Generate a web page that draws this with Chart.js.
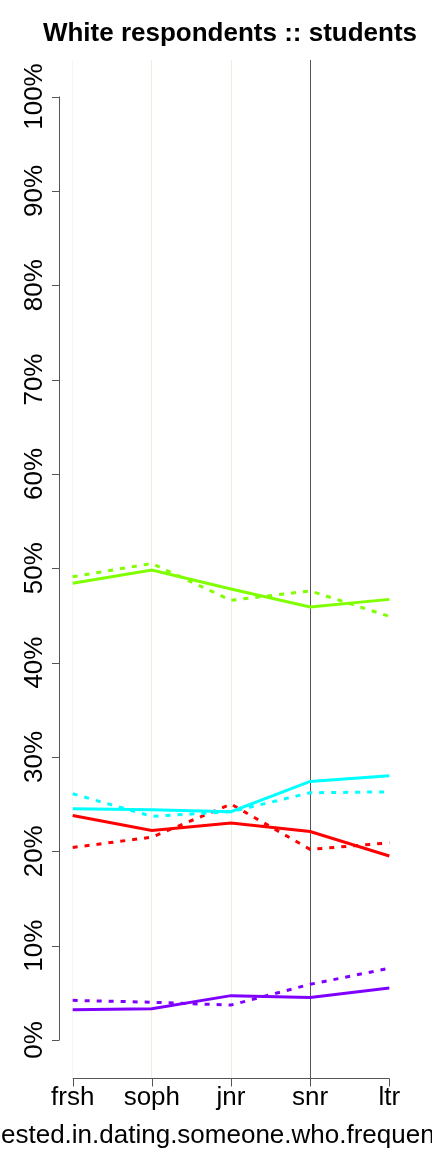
<!DOCTYPE html>
<html>
<head>
<meta charset="utf-8">
<script src="https://cdn.jsdelivr.net/npm/chart.js@4.4.0/dist/chart.umd.min.js"></script>
<style>
  body { margin: 0; background: #fff; }
  #c { display: block; }
</style>
</head>
<body>
<canvas id="c" width="432" height="1152"></canvas>
<script>
const categories = ["frsh", "soph", "jnr", "snr", "ltr"];
const yTicks = [0, 10, 20, 30, 40, 50, 60, 70, 80, 90, 100];

const greenSolid = [48.4, 49.8, 47.8, 45.9, 46.7];
const greenDotted = [49.1, 50.5, 46.6, 47.6, 44.9];
const cyanSolid = [24.5, 24.4, 24.2, 27.4, 28.0];
const cyanDotted = [26.1, 23.7, 24.2, 26.2, 26.3];
const redSolid = [23.8, 22.2, 23.0, 22.1, 19.5];
const redDotted = [20.4, 21.5, 25.0, 20.2, 20.9];
const purpleSolid = [3.2, 3.3, 4.7, 4.5, 5.5];
const purpleDotted = [4.2, 4.0, 3.7, 5.9, 7.6];

const titleText = "White respondents :: students";
const xTitleText = "ested.in.dating.someone.who.frequen";
const FONT = "Liberation Sans, Arial, Helvetica, sans-serif";

function pts(arr) {
  return arr.map((v, i) => ({ x: i, y: v }));
}

function line(data, color, dotted) {
  return {
    data: pts(data),
    borderColor: color,
    borderWidth: 3,
    borderDash: dotted ? [5, 7] : [],
    borderCapStyle: "butt",
    pointRadius: 0,
    tension: 0,
    fill: false
  };
}

const decor = {
  id: "decor",
  afterDraw(chart) {
    const ctx = chart.ctx;
    const xs = chart.scales.x, ys = chart.scales.y;
    ctx.save();
    ctx.fillStyle = "#000";

    // title
    ctx.font = "bold 26px " + FONT;
    ctx.textAlign = "center";
    ctx.textBaseline = "alphabetic";
    ctx.fillText(titleText, 230, 41);

    // y axis
    ctx.strokeStyle = "#555";
    ctx.lineWidth = 1;
    const y0 = ys.getPixelForValue(0), y100 = ys.getPixelForValue(100);
    ctx.beginPath();
    ctx.moveTo(59.5, y0);
    ctx.lineTo(59.5, y100);
    yTicks.forEach(t => {
      const py = Math.round(ys.getPixelForValue(t)) + 0.5;
      ctx.moveTo(52, py);
      ctx.lineTo(59.5, py);
    });
    ctx.stroke();
    ctx.font = "26px " + FONT;
    yTicks.forEach(t => {
      const py = ys.getPixelForValue(t);
      ctx.save();
      ctx.translate(42, py);
      ctx.rotate(-Math.PI / 2);
      ctx.textAlign = "center";
      ctx.fillText(t + "%", 0, 0);
      ctx.restore();
    });

    // x axis
    const ax = 1078.5;
    ctx.beginPath();
    ctx.moveTo(xs.getPixelForValue(0), ax);
    ctx.lineTo(xs.getPixelForValue(categories.length - 1), ax);
    categories.forEach((c, i) => {
      const px = Math.round(xs.getPixelForValue(i)) + 0.5;
      ctx.moveTo(px, ax);
      ctx.lineTo(px, ax + 8);
    });
    ctx.stroke();
    ctx.textAlign = "center";
    categories.forEach((c, i) => {
      ctx.fillText(c, xs.getPixelForValue(i), 1105);
    });

    // x title (clipped in the original)
    ctx.textAlign = "left";
    ctx.fillText(xTitleText, 1, 1143);
    ctx.restore();
  }
};

const gridColors = ["#F6F6EE", "#EEEEDC", "#EEEEDC", "#555555", "rgba(0,0,0,0)"];

new Chart(document.getElementById("c"), {
  type: "line",
  data: {
    datasets: [
      line(greenDotted, "#80FF00", true),
      line(greenSolid, "#80FF00", false),
      line(cyanDotted, "#00FFFF", true),
      line(cyanSolid, "#00FFFF", false),
      line(redDotted, "#FF0000", true),
      line(redSolid, "#FF0000", false),
      line(purpleDotted, "#8000FF", true),
      line(purpleSolid, "#8000FF", false)
    ]
  },
  options: {
    responsive: false,
    animation: false,
    layout: { padding: { top: 60, right: 30, left: 0, bottom: 0 } },
    plugins: { legend: { display: false }, tooltip: { enabled: false } },
    scales: {
      x: {
        type: "linear",
        min: -0.16,
        max: 4.16,
        afterBuildTicks: s => { s.ticks = categories.map((c, i) => ({ value: i })); },
        afterFit: s => { s.height = 74; },
        ticks: { display: false },
        border: { display: false },
        grid: {
          drawTicks: false,
          lineWidth: 1,
          color: c => gridColors[c.index] || "rgba(0,0,0,0)"
        }
      },
      y: {
        min: -4.03,
        max: 103.87,
        afterFit: s => { s.width = 60; },
        ticks: { display: false },
        border: { display: false },
        grid: { display: false }
      }
    }
  },
  plugins: [decor]
});
</script>
</body>
</html>
